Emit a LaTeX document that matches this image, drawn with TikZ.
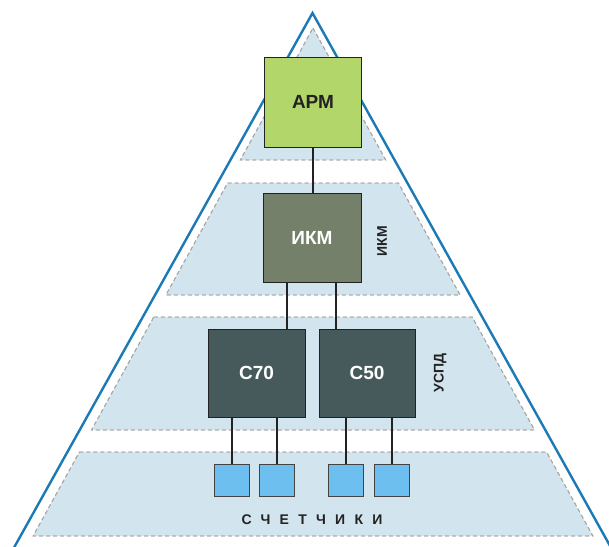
\documentclass[tikz,border=0pt]{standalone}
\usepackage{fontspec}
\setmainfont{Liberation Sans}
\usetikzlibrary{calc}

\definecolor{edgeblue}{HTML}{1B7AB6}
\definecolor{bandfill}{HTML}{D2E4EE}
\definecolor{banddash}{HTML}{A8A8A8}
\definecolor{armgreen}{HTML}{B3D66B}
\definecolor{ikmgreen}{HTML}{74806A}
\definecolor{uspdslate}{HTML}{475A5B}
\definecolor{meterblue}{HTML}{6DBFEF}
\definecolor{inkdark}{HTML}{222222}

\tikzset{
  band/.style={fill=bandfill, draw=banddash, line width=0.9pt, dash pattern=on 4pt off 3pt},
  unitbox/.style={draw=inkdark, line width=1pt, inner sep=0pt,
    font=\fontsize{19}{21}\selectfont\bfseries},
  meter/.style={draw=inkdark!85, line width=1pt, fill=meterblue, inner sep=0pt,
    minimum width=35pt, minimum height=32pt},
  link/.style={draw=inkdark, line width=2pt},
  sidelabel/.style={rotate=90, text=inkdark, font=\fontsize{14}{16}\selectfont\bfseries},
}

\begin{document}
\begin{tikzpicture}[x=1pt, y=-1pt]
  \useasboundingbox (0,0) rectangle (609,546);
  \clip (0,0) rectangle (609,546);

  % layered bands inside the pyramid (apex 313,28; half-width grows 0.551 per unit)
  \fill[band] (313,28) -- (385.7,160) -- (240.3,160) -- cycle;
  \fill[band] (227.6,183) -- (398.4,183) -- (460.1,295) -- (165.9,295) -- cycle;
  \fill[band] (153.8,317) -- (472.2,317) -- (534.5,430) -- (91.5,430) -- cycle;
  \fill[band] (79.4,452) -- (546.6,452) -- (592.9,536) -- (33.1,536) -- cycle;
  \draw[band, fill=none] (313,28) -- (385.7,160) -- (240.3,160) -- cycle;
  \draw[band, fill=none] (227.6,183) -- (398.4,183) -- (460.1,295) -- (165.9,295) -- cycle;
  \draw[band, fill=none] (153.8,317) -- (472.2,317) -- (534.5,430) -- (91.5,430) -- cycle;
  \draw[band, fill=none] (79.4,452) -- (546.6,452) -- (592.9,536) -- (33.1,536) -- cycle;

  % pyramid outline
  \draw[edgeblue, line width=2.4pt, line join=miter]
    (7.1,560) -- (312.5,13) -- (617.9,560);

  % units
  \node[unitbox, fill=armgreen, text=inkdark, minimum width=97pt, minimum height=90pt]
    (arm) at (313,102) {АРМ};
  \node[unitbox, fill=ikmgreen, text=white, minimum width=98pt, minimum height=89pt]
    (ikm) at (312,237.5) {ИКМ};
  \node[unitbox, fill=uspdslate, text=white, minimum width=97pt, minimum height=88pt]
    (c70) at (256.5,373) {С70};
  \node[unitbox, fill=uspdslate, text=white, minimum width=96pt, minimum height=88pt]
    (c50) at (367,373) {С50};

  \node[meter] (m1) at (232,480) {};
  \node[meter] (m2) at (277,480) {};
  \node[meter] (m3) at (346,480) {};
  \node[meter] (m4) at (392,480) {};

  % level labels
  \node[sidelabel] (lblikm) at (382,241) {ИКМ};
  \node[sidelabel] (lbluspd) at (440,373) {УСПД};
  \node[text=inkdark, font=\fontsize{14}{16}\selectfont\bfseries\addfontfeatures{LetterSpace=66}]
    (lblmeters) at (312,520) {СЧЕТЧИКИ};

  % links
  \draw[link] (arm.south) -- (arm.south |- ikm.north);
  \draw[link] ([xshift=-25pt]ikm.south) -- ([xshift=-25pt]ikm.south |- c70.north);
  \draw[link] ([xshift=24pt]ikm.south) -- ([xshift=24pt]ikm.south |- c50.north);
  \draw[link] (m1.north) -- (m1.north |- c70.south);
  \draw[link] (m2.north) -- (m2.north |- c70.south);
  \draw[link] (m3.north) -- (m3.north |- c50.south);
  \draw[link] (m4.north) -- (m4.north |- c50.south);
\end{tikzpicture}
\end{document}
